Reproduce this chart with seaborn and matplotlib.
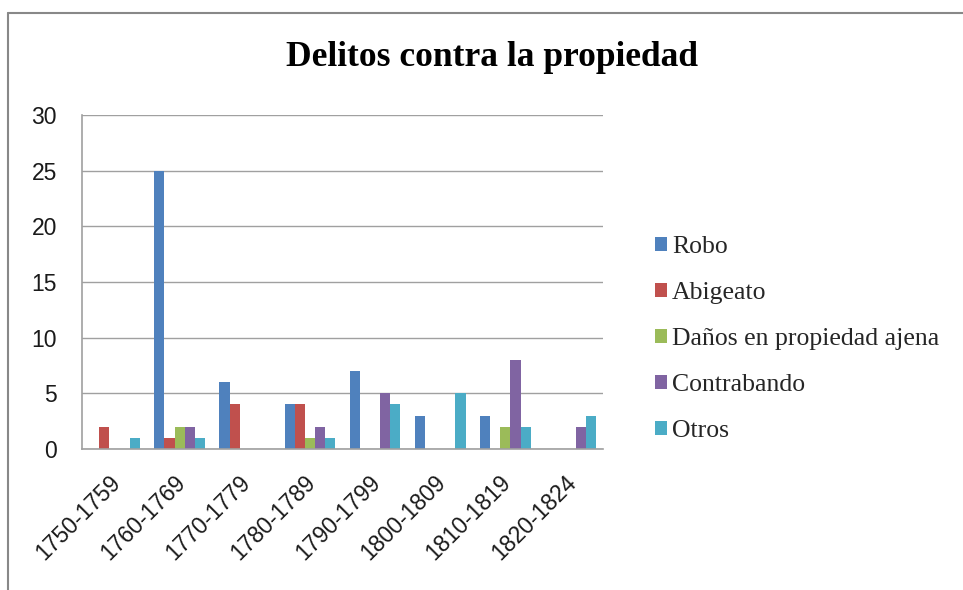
import matplotlib
matplotlib.use("Agg")
import matplotlib.pyplot as plt
import matplotlib.transforms as mtransforms
import seaborn as sns
import pandas as pd
from matplotlib.patches import Patch
from matplotlib.lines import Line2D

categories = ["1750-1759", "1760-1769", "1770-1779", "1780-1789",
              "1790-1799", "1800-1809", "1810-1819", "1820-1824"]
series = ["Robo", "Abigeato", "Daños en propiedad ajena", "Contrabando", "Otros"]
robo = [0, 25, 6, 4, 7, 3, 3, 0]
abigeato = [2, 1, 4, 4, 0, 0, 0, 0]
danos = [0, 2, 0, 1, 0, 0, 2, 0]
contrabando = [0, 2, 0, 2, 5, 0, 8, 2]
otros = [1, 1, 0, 1, 4, 5, 2, 3]
colors = ["#4F81BD", "#C0504D", "#9BBB59", "#8064A2", "#4BACC6"]

values = [robo, abigeato, danos, contrabando, otros]
rows = []
for s, vals in zip(series, values):
    for c, v in zip(categories, vals):
        rows.append({"Periodo": c, "Serie": s, "Valor": v})
df = pd.DataFrame(rows)

sns.set_theme(style="white")
fig = plt.figure(figsize=(9.63, 5.90), dpi=100)
W, H = 963, 590
ax = fig.add_axes([82 / W, 1 - 449 / H, (603 - 82) / W, (449 - 115) / H])

sns.barplot(data=df, x="Periodo", y="Valor", hue="Serie", order=categories,
            hue_order=series, palette=colors, width=0.78, gap=0,
            saturation=1, ax=ax, legend=False, linewidth=0)

ax.set_ylim(0, 30)
ax.set_yticks([0, 5, 10, 15, 20, 25, 30])
ax.yaxis.grid(True, color="#A0A0A0", linewidth=1)
ax.set_axisbelow(True)
ax.set_xlabel("")
ax.set_ylabel("")
for sp in ["top", "right"]:
    ax.spines[sp].set_visible(False)
for sp in ["left", "bottom"]:
    ax.spines[sp].set_color("#A0A0A0")
    ax.spines[sp].set_linewidth(1.2)
ax.tick_params(axis="y", labelsize=16.5, colors="#1a1a1a", length=0, pad=18)
ax.tick_params(axis="x", labelsize=16.5, colors="#1a1a1a", length=0, pad=16)
for lbl in ax.get_yticklabels():
    lbl.set_fontfamily("Liberation Sans")
shift = mtransforms.ScaledTranslation(-6 / 100, 0, fig.dpi_scale_trans)
for lbl in ax.get_xticklabels():
    lbl.set_fontfamily("Liberation Sans")
    lbl.set_rotation(45)
    lbl.set_ha("right")
    lbl.set_rotation_mode("anchor")
    lbl.set_transform(lbl.get_transform() + shift)

fig.text(492 / W, 1 - 57 / H, "Delitos contra la propiedad", ha="center", va="center",
         fontsize=25.5, fontweight="bold", family="Liberation Serif", color="black")

handles = [Patch(facecolor=c, edgecolor="none") for c in colors]
fig.legend(handles, series, loc="center left", bbox_to_anchor=(632 / W, 1 - 339 / H),
           frameon=False, prop={"family": "Liberation Serif", "size": 18.5},
           handlelength=0.45, handleheight=0.45, handletextpad=0.2, labelspacing=0.93)

fig.add_artist(Line2D([8 / W, 8 / W], [0, 1 - 13 / H], transform=fig.transFigure,
                      color="#888888", linewidth=1.5))
fig.add_artist(Line2D([8 / W, 1], [1 - 13 / H, 1 - 13 / H], transform=fig.transFigure,
                      color="#888888", linewidth=1.5))

fig.savefig("out.png", dpi=100, facecolor="white")
